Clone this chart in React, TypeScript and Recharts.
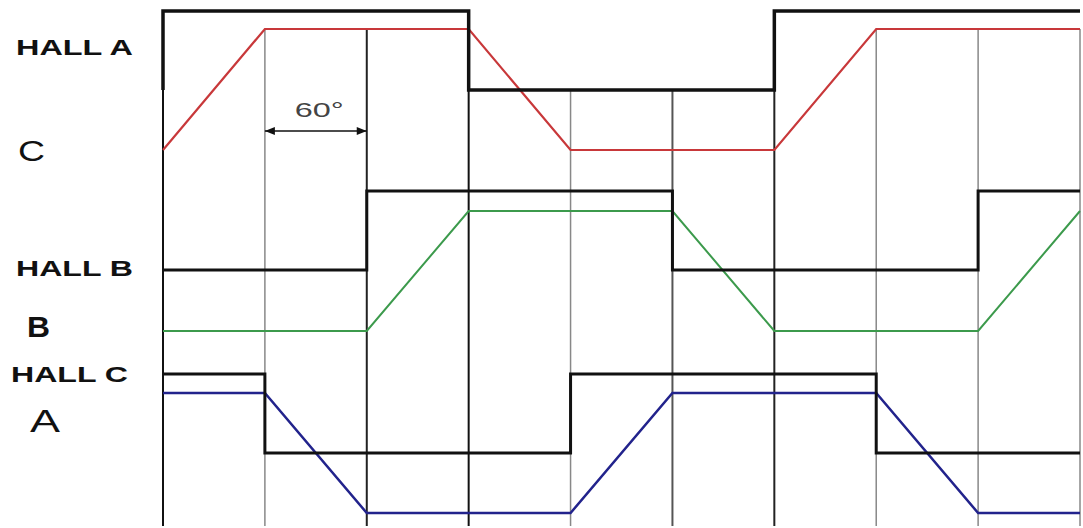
import { LineChart, Line, XAxis, YAxis, ReferenceLine, ReferenceDot } from "recharts";

// electrical angle (deg) and signal level of each trace
const hallADeg = [0, 0, 180, 180, 360, 360, 540];
const hallALevel = [438, 517, 517, 438, 438, 517, 517];

const phaseCDeg = [0, 60, 180, 240, 360, 420, 540];
const phaseCLevel = [378, 499, 499, 378, 378, 499, 499];

const hallBDeg = [0, 120, 120, 300, 300, 480, 480, 540];
const hallBLevel = [258, 258, 337, 337, 258, 258, 337, 337];

const phaseBDeg = [0, 120, 180, 300, 360, 480, 540];
const phaseBLevel = [197, 197, 317, 317, 197, 197, 317];

const hallCDeg = [0, 60, 60, 240, 240, 420, 420, 540];
const hallCLevel = [154, 154, 75, 75, 154, 154, 75, 75];

const phaseADeg = [0, 60, 120, 240, 300, 420, 480, 540];
const phaseALevel = [135, 135, 15, 15, 135, 135, 15, 15];

// vertical 60 degree divisions and where each one starts
const gridDeg = [0, 60, 120, 180, 240, 300, 360, 420, 480, 540];
const gridTop = [517, 499, 499, 517, 438, 438, 517, 499, 499, 499];

// row labels on the left
const rowLabels = ["HALL A", "C", "HALL B", "B", "HALL C", "A"];
const rowTicks = [481, 378, 260, 202, 154, 107];

// 60 degree dimension
const dimDeg = [60, 120];
const dimLevel = 397;
const dimText = "60°";

const labelStyle: Record<string, { x: number; size: number; bold: boolean; len: number }> = {
  "HALL A": { x: 16, size: 22, bold: true, len: 117 },
  C: { x: 18, size: 30, bold: false, len: 27 },
  "HALL B": { x: 16, size: 22, bold: true, len: 117 },
  B: { x: 27, size: 30, bold: true, len: 23 },
  "HALL C": { x: 11, size: 22, bold: true, len: 117 },
  A: { x: 30, size: 31, bold: false, len: 30 },
};

const gridColor = ["#111", "#888", "#222", "#111", "#888", "#555", "#222", "#888", "#888", "#888"];

const zip = (xs: number[], ys: number[]) => xs.map((deg, i) => ({ deg, v: ys[i] }));

const RowTick = (props: any) => {
  const { y, payload } = props;
  const label = rowLabels[rowTicks.indexOf(payload.value)];
  const s = labelStyle[label];
  if (!s) return null;
  return (
    <text
      x={s.x}
      y={y}
      dy="0.36em"
      fontFamily="Liberation Sans, Arial, sans-serif"
      fontSize={s.size}
      fontWeight={s.bold ? 700 : 400}
      fill="#111"
      textLength={s.len}
      lengthAdjust="spacingAndGlyphs"
    >
      {label}
    </text>
  );
};

const ArrowHead = (props: any) => {
  const { cx, cy, index } = props;
  const d = index === 0 ? 10 : -10;
  return (
    <polygon
      key={`arrow-${index}`}
      points={`${cx},${cy} ${cx + d},${cy - 4} ${cx + d},${cy + 4}`}
      fill="#111"
    />
  );
};

const DimLabel = (props: any) => (
  <text
    x={props.cx}
    y={props.cy}
    textAnchor="middle"
    dy="0.36em"
    fontFamily="Liberation Sans, Arial, sans-serif"
    fontSize={20}
    fill="#444"
    textLength={49}
    lengthAdjust="spacingAndGlyphs"
  >
    {dimText}
  </text>
);

const App = () => {
  return (
    <div style={{ position: "absolute", left: 0, top: 0, background: "#fff" }}>
      <LineChart width={1083} height={528} margin={{ top: 0, right: 3, bottom: 0, left: 0 }}>
        <XAxis type="number" dataKey="deg" domain={[0, 540]} hide />
        <YAxis
          type="number"
          domain={[0, 528]}
          ticks={rowTicks}
          interval={0}
          width={163}
          axisLine={false}
          tickLine={false}
          tick={<RowTick />}
        />
        {gridDeg.map((deg, i) => (
          <ReferenceLine
            key={`grid-${deg}`}
            segment={[
              { x: deg, y: gridTop[i] },
              { x: deg, y: 2 },
            ]}
            stroke={gridColor[i]}
            strokeWidth={gridColor[i] === "#888" ? 1.5 : 2}
          />
        ))}
        <Line data={zip(phaseCDeg, phaseCLevel)} dataKey="v" stroke="#c8383a" strokeWidth={2.2} dot={false} isAnimationActive={false} />
        <Line data={zip(phaseBDeg, phaseBLevel)} dataKey="v" stroke="#3c9a4c" strokeWidth={2} dot={false} isAnimationActive={false} />
        <Line data={zip(phaseADeg, phaseALevel)} dataKey="v" stroke="#22238c" strokeWidth={2.5} dot={false} isAnimationActive={false} />
        <Line data={zip(hallADeg, hallALevel)} dataKey="v" stroke="#111" strokeWidth={3.5} dot={false} isAnimationActive={false} />
        <Line data={zip(hallBDeg, hallBLevel)} dataKey="v" stroke="#111" strokeWidth={3} dot={false} isAnimationActive={false} />
        <Line data={zip(hallCDeg, hallCLevel)} dataKey="v" stroke="#111" strokeWidth={3} dot={false} isAnimationActive={false} />
        <Line
          data={dimDeg.map((deg) => ({ deg, v: dimLevel }))}
          dataKey="v"
          stroke="#111"
          strokeWidth={1.5}
          dot={<ArrowHead />}
          isAnimationActive={false}
        />
        <ReferenceDot x={92} y={418} r={0} shape={<DimLabel />} />
      </LineChart>
    </div>
  );
};

export default App;
